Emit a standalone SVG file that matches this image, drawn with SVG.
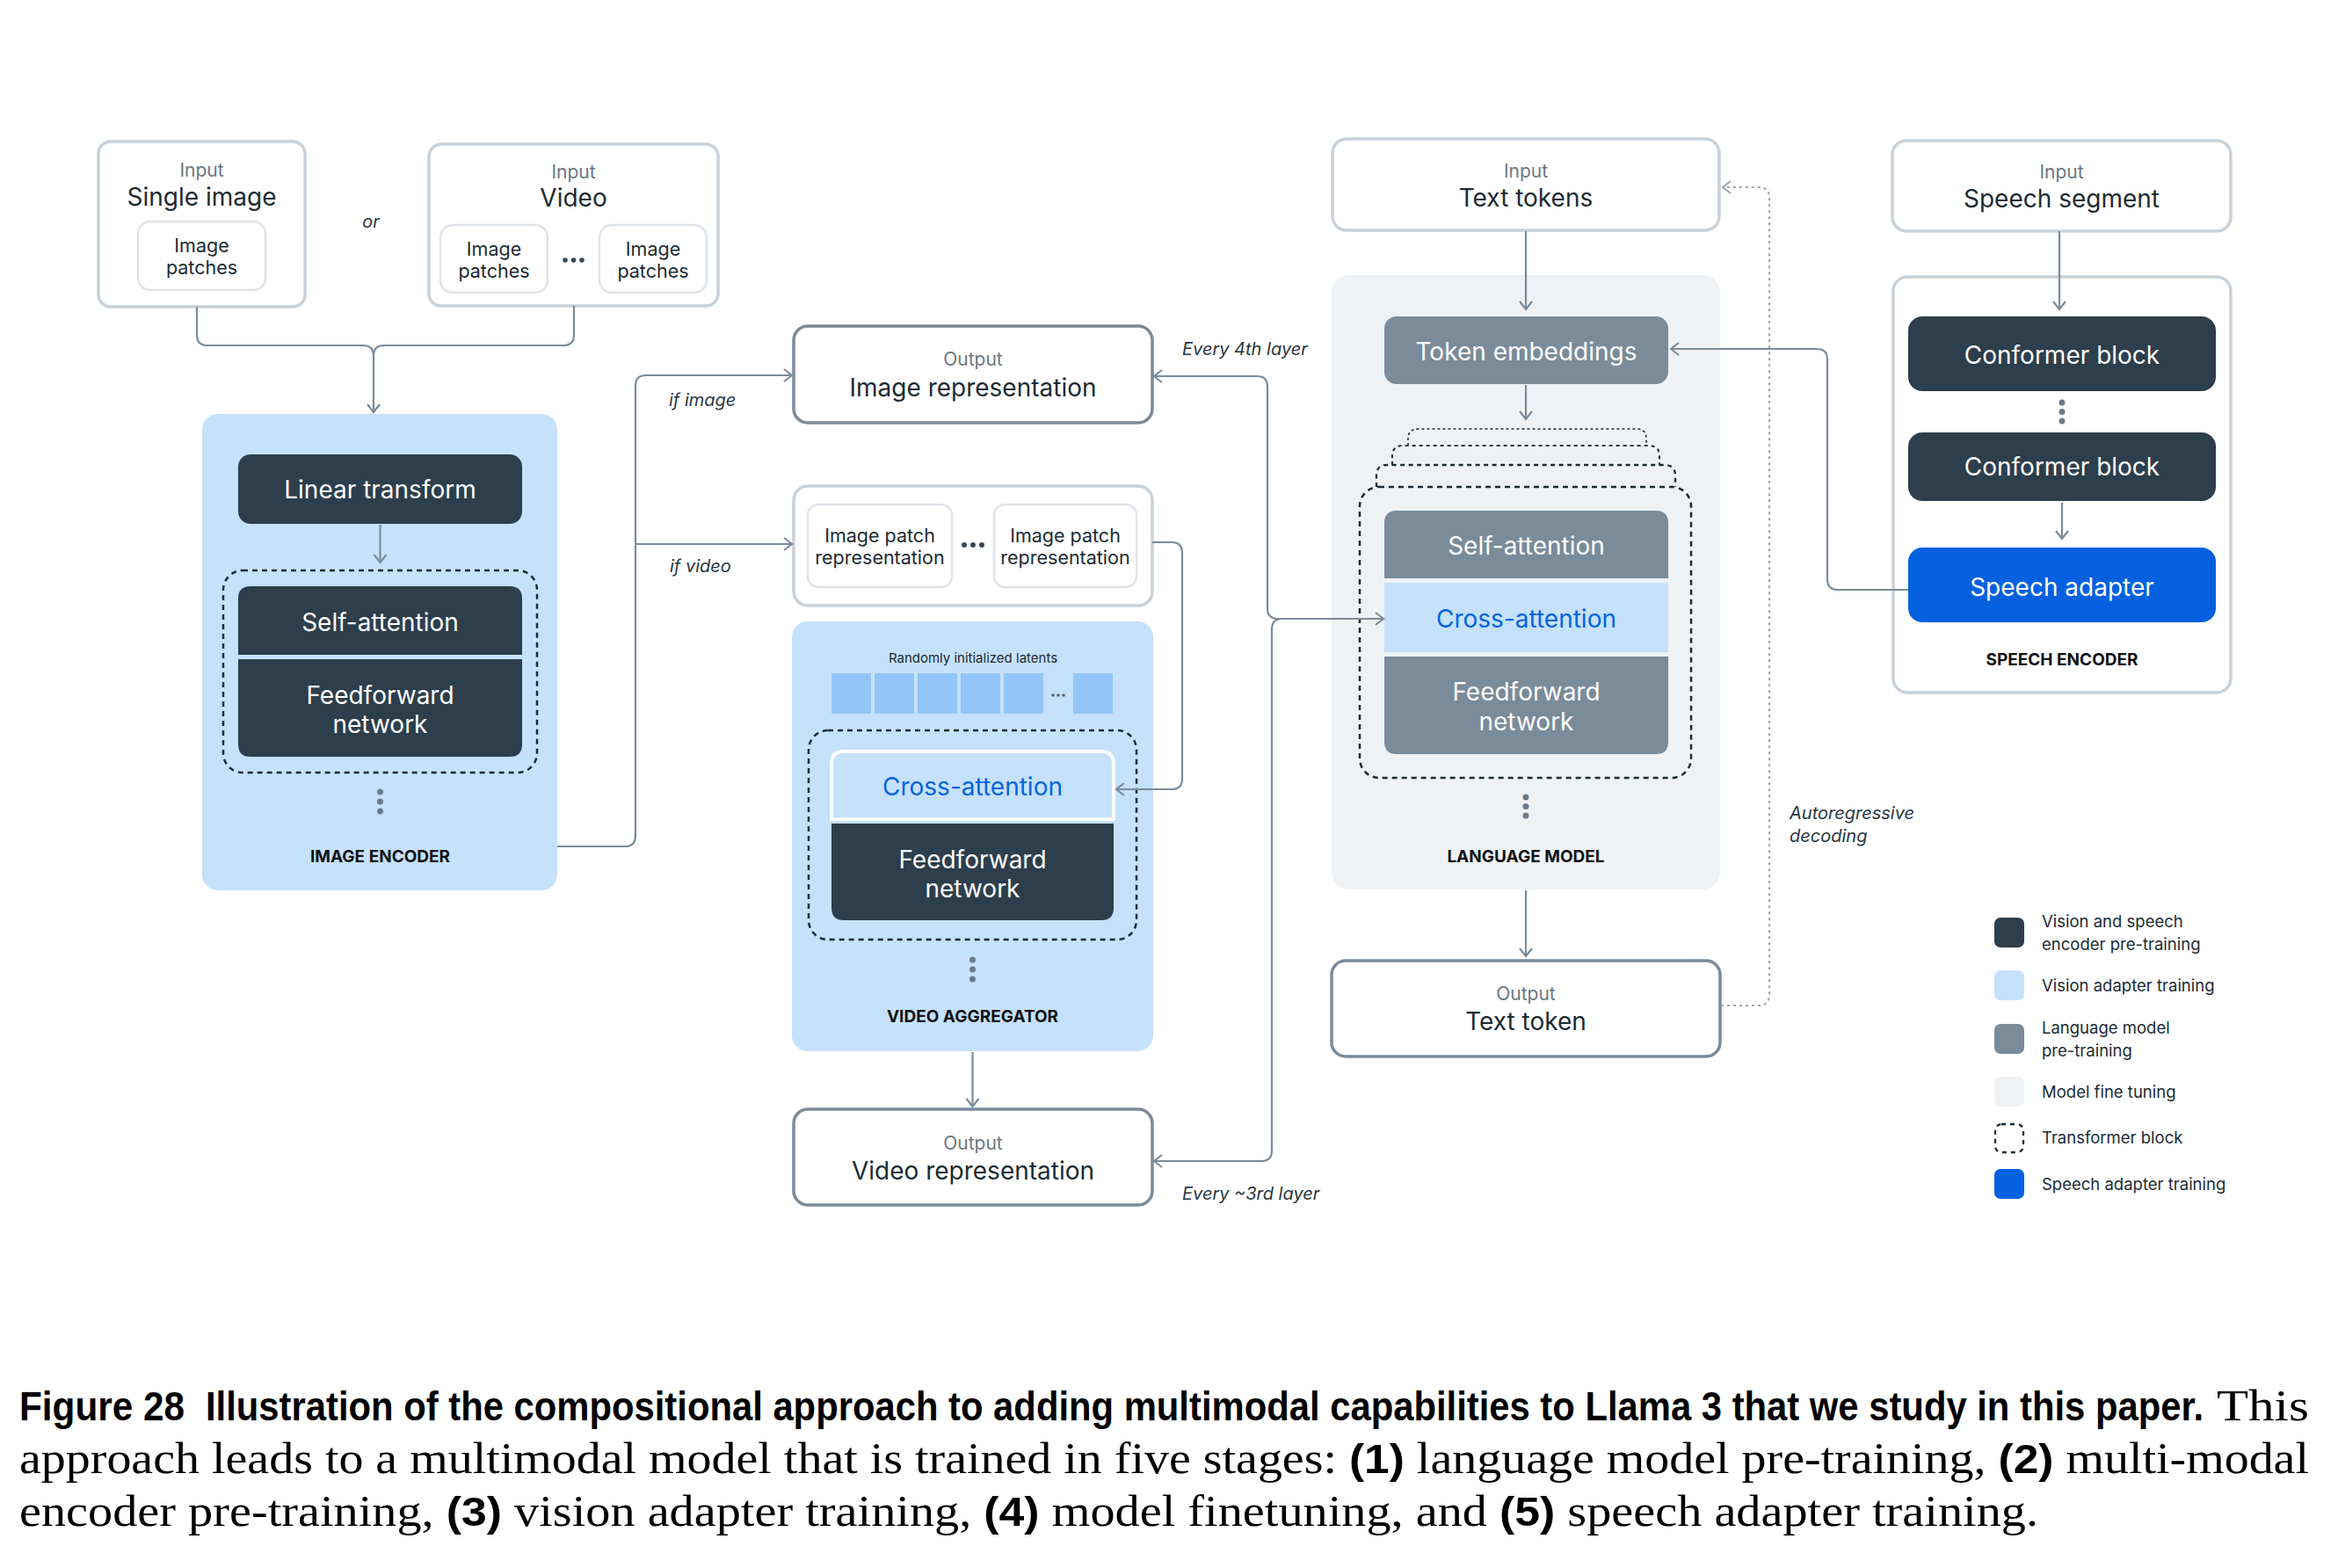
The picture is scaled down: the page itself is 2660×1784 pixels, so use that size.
<svg xmlns="http://www.w3.org/2000/svg" width="2660" height="1784" viewBox="0 0 2660 1784">
<style>
text{font-family:Inter,"Noto Sans","Liberation Sans",sans-serif;fill:#1c2b33}
.lbl{font-size:21px;fill:#6b7780;text-anchor:middle}
.ttl{font-size:28px;text-anchor:middle}
.sm{font-size:21.5px;text-anchor:middle}
.wt{font-size:28px;fill:#ffffff;text-anchor:middle}
.bl{font-size:28px;fill:#0064e0;text-anchor:middle}
.cap{font-size:19px;font-weight:700;text-anchor:middle;fill:#111}
.it{font-size:20px;font-style:italic;fill:#2a3640}
.lg{font-size:18.5px;fill:#1c2b33}
.inbox{fill:#fff;stroke:#c9d1d8;stroke-width:3.5}
.inner{fill:#fff;stroke:#dfe4e9;stroke-width:2.5}
.outbox{fill:#fff;stroke:#7b8b9a;stroke-width:3.5}
.dark{fill:#2d3e4c}
.gray{fill:#7a8b9a}
.lblue{fill:#c5e1fc}
.dash{fill:none;stroke:#1c2b33;stroke-width:2.5;stroke-dasharray:6 5}
.con{fill:none;stroke:#7b8b9a;stroke-width:2.2}
.dot{fill:#6b7b8a}
.serif{font-family:"Liberation Serif","Times New Roman",serif;fill:#000}
.hb{font-family:"Liberation Sans",Arial,sans-serif;font-weight:700;fill:#000}
</style>
<defs>
<marker id="ah" viewBox="-11 -9 13 18" refX="0" refY="0" markerWidth="13" markerHeight="18" markerUnits="userSpaceOnUse" orient="auto-start-reverse">
<path d="M-9,-7 L0,0 L-9,7" fill="none" stroke="#7b8b9a" stroke-width="2.2"/>
</marker>
<marker id="ahd" viewBox="-11 -9 13 18" refX="0" refY="0" markerWidth="13" markerHeight="18" markerUnits="userSpaceOnUse" orient="auto-start-reverse">
<path d="M-9,-7 L0,0 L-9,7" fill="none" stroke="#9aa6b0" stroke-width="2"/>
</marker>
</defs>
<rect width="2660" height="1784" fill="#fff"/>

<!-- Image input -->
<g id="single-image">
<rect class="inbox" x="112" y="161" width="235" height="188" rx="14"/>
<text class="lbl" x="229.5" y="201">Input</text>
<text class="ttl" x="229.5" y="234">Single image</text>
<rect class="inner" x="157" y="252" width="145" height="78" rx="14"/>
<text class="sm" x="229.5" y="287">Image</text>
<text class="sm" x="229.5" y="312">patches</text>
</g>
<g id="or-label"><text class="it" x="422" y="259" text-anchor="middle">or</text></g>
<g id="video-input">
<rect class="inbox" x="488" y="164" width="329" height="184" rx="14"/>
<text class="lbl" x="652.5" y="203">Input</text>
<text class="ttl" x="652.5" y="235">Video</text>
<rect class="inner" x="501" y="256" width="122" height="77" rx="14"/>
<text class="sm" x="562" y="291">Image</text>
<text class="sm" x="562" y="316">patches</text>
<rect class="inner" x="682" y="256" width="122" height="77" rx="14"/>
<text class="sm" x="743" y="291">Image</text>
<text class="sm" x="743" y="316">patches</text>
<g fill="#3a4854"><circle cx="643" cy="296" r="2.8"/><circle cx="652.5" cy="296" r="2.8"/><circle cx="662" cy="296" r="2.8"/></g>
</g>

<!-- Image encoder -->
<g id="image-encoder">
<rect class="lblue" x="230" y="471" width="404" height="542" rx="18"/>
<rect class="dark" x="271" y="517" width="323" height="79" rx="14"/>
<text class="wt" x="432.5" y="567">Linear transform</text>
<rect class="dash" x="254" y="649" width="357" height="230" rx="22"/>
<path class="dark" d="M271,745 V681 Q271,667 285,667 H580 Q594,667 594,681 V745 Z"/>
<text class="wt" x="432.5" y="718">Self-attention</text>
<path class="dark" d="M271,750 H594 V847 Q594,861 580,861 H285 Q271,861 271,847 Z"/>
<text class="wt" x="432.5" y="801">Feedforward</text>
<text class="wt" x="432.5" y="834">network</text>
<circle class="dot" cx="432.5" cy="901" r="3.5"/><circle class="dot" cx="432.5" cy="912" r="3.5"/><circle class="dot" cx="432.5" cy="923" r="3.5"/>
<text class="cap" x="432.5" y="981">IMAGE ENCODER</text>
</g>

<!-- Image representation output -->
<g id="image-representation">
<rect class="outbox" x="903" y="371" width="408" height="110" rx="16"/>
<text class="lbl" x="1107" y="416">Output</text>
<text class="ttl" x="1107" y="451">Image representation</text>
</g>

<!-- Patch representations -->
<g id="patch-representations">
<rect class="inbox" x="903" y="553" width="408" height="136" rx="16"/>
<rect class="inner" x="919" y="574" width="164" height="94" rx="12"/>
<text class="sm" x="1001" y="617">Image patch</text>
<text class="sm" x="1001" y="642">representation</text>
<rect class="inner" x="1131" y="574" width="162" height="94" rx="12"/>
<text class="sm" x="1212" y="617">Image patch</text>
<text class="sm" x="1212" y="642">representation</text>
<g fill="#3a4854"><circle cx="1097" cy="620" r="3"/><circle cx="1107" cy="620" r="3"/><circle cx="1117" cy="620" r="3"/></g>
</g>

<!-- Video aggregator -->
<g id="video-aggregator">
<rect class="lblue" x="901" y="707" width="411" height="489" rx="18"/>
<text x="1107" y="754" font-size="15" text-anchor="middle" fill="#333">Randomly initialized latents</text>
<g fill="#94c5f8">
<rect x="946" y="766" width="45" height="46"/><rect x="995" y="766" width="45" height="46"/><rect x="1044" y="766" width="45" height="46"/><rect x="1093" y="766" width="45" height="46"/><rect x="1142" y="766" width="45" height="46"/><rect x="1221" y="766" width="45" height="46"/>
</g>
<g fill="#55606a"><circle cx="1198" cy="791" r="1.8"/><circle cx="1204" cy="791" r="1.8"/><circle cx="1210" cy="791" r="1.8"/></g>
<rect class="dash" x="920" y="831" width="373" height="238" rx="22"/>
<path class="lblue" stroke="#fff" stroke-width="4" d="M946,932 V869 Q946,855 960,855 H1253 Q1267,855 1267,869 V932 Z"/>
<text class="bl" x="1106.5" y="905">Cross-attention</text>
<path class="dark" d="M946,937 H1267 V1033 Q1267,1047 1253,1047 H960 Q946,1047 946,1033 Z"/>
<text class="wt" x="1106.5" y="988">Feedforward</text>
<text class="wt" x="1106.5" y="1021">network</text>
<circle class="dot" cx="1106.5" cy="1092" r="3.5"/><circle class="dot" cx="1106.5" cy="1103" r="3.5"/><circle class="dot" cx="1106.5" cy="1114" r="3.5"/>
<text class="cap" x="1106.5" y="1163">VIDEO AGGREGATOR</text>
</g>

<!-- Video representation output -->
<g id="video-representation">
<rect class="outbox" x="903" y="1262" width="408" height="109" rx="16"/>
<text class="lbl" x="1107" y="1308">Output</text>
<text class="ttl" x="1107" y="1342">Video representation</text>
</g>

<!-- Text tokens input -->
<g id="text-tokens">
<rect class="inbox" x="1516" y="158" width="440" height="104" rx="16"/>
<text class="lbl" x="1736" y="202">Input</text>
<text class="ttl" x="1736" y="235">Text tokens</text>
</g>

<!-- Language model -->
<g id="language-model">
<rect x="1515" y="313" width="442" height="699" rx="20" fill="#eff2f5"/>
<rect class="gray" x="1575" y="360" width="323" height="77" rx="14"/>
<text class="wt" x="1736.5" y="410">Token embeddings</text>
<path fill="none" stroke="#1c2b33" stroke-width="1.6" stroke-dasharray="3 3" d="M1602,507 V499 Q1602,488 1614,488 H1862 Q1873,488 1873,499 V507"/>
<path fill="none" stroke="#1c2b33" stroke-width="2" stroke-dasharray="4 4" d="M1584,529 V519 Q1584,507 1596,507 H1876 Q1888,507 1888,519 V529"/>
<path fill="none" stroke="#1c2b33" stroke-width="2.3" stroke-dasharray="5 4.5" d="M1566,554 V541 Q1566,529 1578,529 H1894 Q1906,529 1906,541 V554"/>
<rect class="dash" x="1547" y="554" width="377" height="331" rx="22"/>
<path class="gray" d="M1575,658 V595 Q1575,581 1589,581 H1884 Q1898,581 1898,595 V658 Z"/>
<text class="wt" x="1736.5" y="631">Self-attention</text>
<rect class="lblue" x="1575" y="663" width="323" height="79"/>
<text class="bl" x="1736.5" y="714">Cross-attention</text>
<path class="gray" d="M1575,747 H1898 V844 Q1898,858 1884,858 H1589 Q1575,858 1575,844 Z"/>
<text class="wt" x="1736.5" y="797">Feedforward</text>
<text class="wt" x="1736.5" y="831">network</text>
<circle class="dot" cx="1736" cy="907" r="3.5"/><circle class="dot" cx="1736" cy="917.5" r="3.5"/><circle class="dot" cx="1736" cy="928" r="3.5"/>
<text class="cap" x="1736" y="981">LANGUAGE MODEL</text>
</g>

<!-- Text token output -->
<g id="text-token-output">
<rect class="outbox" x="1515" y="1093" width="442" height="109" rx="16"/>
<text class="lbl" x="1736" y="1138">Output</text>
<text class="ttl" x="1736" y="1172">Text token</text>
</g>

<!-- Speech -->
<g id="speech-segment">
<rect class="inbox" x="2153" y="160" width="385" height="103" rx="16"/>
<text class="lbl" x="2345.5" y="203">Input</text>
<text class="ttl" x="2345.5" y="236">Speech segment</text>
</g>
<g id="speech-encoder">
<rect class="inbox" x="2154" y="315" width="384" height="473" rx="16"/>
<rect class="dark" x="2171" y="360" width="350" height="85" rx="16"/>
<text class="wt" x="2346" y="414">Conformer block</text>
<circle class="dot" cx="2346" cy="458" r="3.5"/><circle class="dot" cx="2346" cy="468.5" r="3.5"/><circle class="dot" cx="2346" cy="479" r="3.5"/>
<rect class="dark" x="2171" y="492" width="350" height="78" rx="16"/>
<text class="wt" x="2346" y="541">Conformer block</text>
<rect x="2171" y="623" width="350" height="85" rx="16" fill="#0361e0"/>
<text class="wt" x="2346" y="678">Speech adapter</text>
<text class="cap" x="2346" y="757">SPEECH ENCODER</text>
</g>

<!-- Connectors -->
<g id="connectors">
<path class="con" d="M224,349 V381 Q224,393 236,393 H413 Q425,393 425,405 V469" marker-end="url(#ah)"/>
<path class="con" d="M653,348 V381 Q653,393 641,393 H437 Q425,393 425,405"/>
<line class="con" x1="432.5" y1="597" x2="432.5" y2="640" marker-end="url(#ah)"/>
<path class="con" d="M634,963 H711 Q723,963 723,951 V439 Q723,427 735,427 H901" marker-end="url(#ah)"/>
<line class="con" x1="723" y1="619" x2="901" y2="619" marker-end="url(#ah)"/>
<path class="con" d="M1311,617 H1333 Q1345,617 1345,629 V886 Q1345,898 1333,898 H1270" marker-end="url(#ah)"/>
<line class="con" x1="1106.5" y1="1197" x2="1106.5" y2="1259" marker-end="url(#ah)"/>
<path class="con" d="M1313,428 H1430 Q1442,428 1442,440 V692 Q1442,704 1454,704 H1574" marker-start="url(#ah)" marker-end="url(#ah)"/>
<path class="con" d="M1313,1321 H1435 Q1447,1321 1447,1309 V716 Q1447,704 1459,704" marker-start="url(#ah)"/>
<line class="con" x1="1736" y1="263" x2="1736" y2="352" marker-end="url(#ah)"/>
<line class="con" x1="1736" y1="438" x2="1736" y2="477" marker-end="url(#ah)"/>
<line class="con" x1="1736" y1="1013" x2="1736" y2="1088" marker-end="url(#ah)"/>
<path fill="none" stroke="#9aa6b0" stroke-width="2.2" stroke-dasharray="3 4" d="M1958,1144 H2001 Q2013,1144 2013,1132 V225 Q2013,213 2001,213 H1960" marker-end="url(#ahd)"/>
<line class="con" x1="2343" y1="263" x2="2343" y2="352" marker-end="url(#ah)"/>
<line class="con" x1="2346" y1="572" x2="2346" y2="613" marker-end="url(#ah)"/>
<path class="con" d="M2171,671 H2091 Q2079,671 2079,659 V409 Q2079,397 2067,397 H1901" marker-end="url(#ah)"/>
</g>

<!-- Connector labels -->
<g id="connector-labels">
<text class="it" x="761" y="462">if image</text>
<text class="it" x="762" y="651">if video</text>
<text class="it" x="1345" y="404">Every 4th layer</text>
<text class="it" x="1345" y="1365">Every ~3rd layer</text>
<text class="it" x="2036" y="932">Autoregressive</text>
<text class="it" x="2036" y="958">decoding</text>
</g>

<!-- Legend -->
<g id="legend">
<rect x="2269" y="1044" width="34" height="34" rx="7" fill="#2d3e4c"/>
<text class="lg" x="2323" y="1055">Vision and speech</text>
<text class="lg" x="2323" y="1081">encoder pre-training</text>
<rect x="2269" y="1104" width="34" height="34" rx="7" fill="#c5e1fc"/>
<text class="lg" x="2323" y="1128">Vision adapter training</text>
<rect x="2269" y="1165" width="34" height="34" rx="7" fill="#7a8b9a"/>
<text class="lg" x="2323" y="1176">Language model</text>
<text class="lg" x="2323" y="1202">pre-training</text>
<rect x="2269" y="1225" width="34" height="34" rx="7" fill="#eff2f5"/>
<text class="lg" x="2323" y="1249">Model fine tuning</text>
<rect x="2270" y="1279" width="32" height="32" rx="7" fill="none" stroke="#1c2b33" stroke-width="2.3" stroke-dasharray="5 5"/>
<text class="lg" x="2323" y="1301">Transformer block</text>
<rect x="2269" y="1330" width="34" height="34" rx="7" fill="#0361e0"/>
<text class="lg" x="2323" y="1354">Speech adapter training</text>
</g>

<!-- Caption -->
<g id="caption">
<text class="hb" transform="translate(22,1616) scale(1,1.22)" x="0" y="0" font-size="38" textLength="188" lengthAdjust="spacingAndGlyphs">Figure 28</text>
<text class="hb" transform="translate(234,1616) scale(1,1.22)" x="0" y="0" font-size="38" textLength="2273" lengthAdjust="spacingAndGlyphs">Illustration of the compositional approach to adding multimodal capabilities to Llama 3 that we study in this paper.</text>
<text class="serif" x="2522" y="1616" font-size="50" textLength="105" lengthAdjust="spacingAndGlyphs">This</text>
<text class="serif" x="22" y="1676" font-size="50" textLength="2605" lengthAdjust="spacingAndGlyphs">approach leads to a multimodal model that is trained in five stages: <tspan class="hb" font-size="46">(1)</tspan> language model pre-training, <tspan class="hb" font-size="46">(2)</tspan> multi-modal</text>
<text class="serif" x="22" y="1736" font-size="50" textLength="2297" lengthAdjust="spacingAndGlyphs">encoder pre-training, <tspan class="hb" font-size="46">(3)</tspan> vision adapter training, <tspan class="hb" font-size="46">(4)</tspan> model finetuning, and <tspan class="hb" font-size="46">(5)</tspan> speech adapter training.</text>
</g>
</svg>
